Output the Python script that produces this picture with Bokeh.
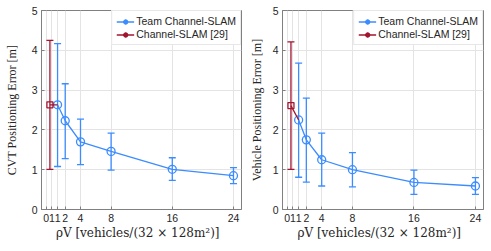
import math
from bokeh.plotting import figure
from bokeh.layouts import row
from bokeh.models import (ColumnDataSource, Whisker, TeeHead, FixedTicker, Range1d,
                          Legend, LegendItem)
from bokeh.embed import file_html
from bokeh.resources import INLINE

# ---- data ----
x_team = [1, 2, 4, 8, 16, 24]
cvt_mean = [2.63, 2.23, 1.70, 1.46, 1.01, 0.85]
cvt_upper = [4.17, 3.16, 2.27, 1.92, 1.30, 1.05]
cvt_lower = [1.08, 1.28, 1.13, 0.99, 0.73, 0.65]

x_cs = [0, 1]
cvt_cs_mean = [2.63, 2.63]
cvt_cs_upper = [4.25]
cvt_cs_lower = [1.01]

veh_mean = [2.25, 1.75, 1.25, 1.00, 0.68, 0.59]
veh_upper = [3.68, 2.80, 1.92, 1.43, 0.99, 0.80]
veh_lower = [0.81, 0.69, 0.59, 0.57, 0.38, 0.38]

veh_cs_mean = [2.61, 2.25]
veh_cs_upper = [4.21]
veh_cs_lower = [1.01]

x_tick_pos = [-0.5, 0.25, 1, 2, 4, 8, 16, 24]
x_tick_lab = ["0", "1", "1", "2", "4", "8", "16", "24"]
y_ticks = [0, 1, 2, 3, 4, 5]

BLUE = "#3b8cff"
RED = "#a2142f"
AX = "#808080"
TXT = "#262626"
GRID = "#e4e4e4"
XLABEL = "ρV   [vehicles/(32 × 128m²)]"


def make_plot(ylabel, mean, upper, lower, cs_mean, cs_upper, cs_lower,
              width, border_left, border_right, ylabel_standoff):
    p = figure(width=width, height=251, output_backend="svg", toolbar_location=None,
               x_range=Range1d(-1.1, 25.05), y_range=Range1d(0, 5),
               min_border_left=border_left, min_border_right=border_right,
               min_border_top=10, min_border_bottom=42)
    p.background_fill_color = "white"
    p.border_fill_color = "white"
    p.outline_line_color = AX
    p.outline_line_width = 1

    p.xaxis.ticker = FixedTicker(ticks=x_tick_pos)
    p.xaxis.major_label_overrides = {t: l for t, l in zip(x_tick_pos, x_tick_lab)}
    p.yaxis.ticker = FixedTicker(ticks=y_ticks)
    for ax in (p.xaxis[0], p.yaxis[0]):
        ax.axis_line_color = AX
        ax.major_tick_line_color = AX
        ax.major_tick_in = 3
        ax.major_tick_out = 0
        ax.minor_tick_line_color = None
        ax.major_label_text_font = "Liberation Sans"
        ax.major_label_text_font_size = "10.5px"
        ax.major_label_text_color = TXT
        ax.axis_label_text_font_style = "normal"
        ax.axis_label_text_color = TXT
    p.xaxis.major_label_standoff = 4
    p.yaxis.major_label_standoff = 4
    p.xaxis.axis_label = XLABEL
    p.xaxis.axis_label_text_font = "DejaVu Serif"
    p.xaxis.axis_label_text_font_size = "12px"
    p.xaxis.axis_label_standoff = 1
    p.yaxis.axis_label = ylabel
    p.yaxis.axis_label_text_font = "Liberation Serif"
    p.yaxis.axis_label_text_font_size = "12px"
    p.yaxis.axis_label_standoff = ylabel_standoff

    p.xgrid.grid_line_color = GRID
    p.ygrid.grid_line_color = GRID

    # Team Channel-SLAM
    src = ColumnDataSource(dict(x=x_team, y=mean, up=upper, lo=lower))
    w = Whisker(source=src, base="x", upper="up", lower="lo", dimension="height",
                line_color=BLUE, line_width=1.3,
                upper_head=TeeHead(size=7, line_color=BLUE, line_width=1.3),
                lower_head=TeeHead(size=7, line_color=BLUE, line_width=1.3))
    p.add_layout(w)

    # Channel-SLAM [29]
    cs_src = ColumnDataSource(dict(x=x_cs[:1], y=cs_mean[:1], up=cs_upper, lo=cs_lower))
    w2 = Whisker(source=cs_src, base="x", upper="up", lower="lo", dimension="height",
                 line_color=RED, line_width=1.3,
                 upper_head=TeeHead(size=7, line_color=RED, line_width=1.3),
                 lower_head=TeeHead(size=7, line_color=RED, line_width=1.3))
    p.add_layout(w2)

    p.line(x=x_team, y=mean, line_color=BLUE, line_width=1.3)
    p.scatter(x=x_team, y=mean, marker="circle", size=8, line_color=BLUE,
              line_width=1.3, fill_alpha=0)
    p.line(x=x_cs, y=cs_mean, line_color=RED, line_width=1.3)
    p.scatter(x=x_cs[:1], y=cs_mean[:1], marker="square", size=6, line_color=RED,
              line_width=1.3, fill_alpha=0)

    # legend-only renderers
    nan = [float("nan")]
    lb = p.line(x=nan, y=nan, line_color=BLUE, line_width=1.3)
    db = p.scatter(x=nan, y=nan, marker="circle", line_color=BLUE, fill_color=BLUE)
    cb = p.scatter(x=nan, y=nan, marker="cross", line_color=BLUE, line_width=1.3)
    lr = p.line(x=nan, y=nan, line_color=RED, line_width=1.3)
    dr = p.scatter(x=nan, y=nan, marker="circle", line_color=RED, fill_color=RED)
    cr = p.scatter(x=nan, y=nan, marker="cross", line_color=RED, line_width=1.3)

    leg = Legend(items=[LegendItem(label="Team Channel-SLAM", renderers=[lb, db, cb]),
                        LegendItem(label="Channel-SLAM [29]", renderers=[lr, dr, cr])],
                 location="top_right")
    leg.margin = 0
    leg.padding = 4
    leg.spacing = 1
    leg.glyph_width = 18
    leg.glyph_height = 11
    leg.label_height = 11
    leg.label_standoff = 2
    leg.label_text_font = "Liberation Sans"
    leg.label_text_font_size = "10.5px"
    leg.label_text_color = TXT
    leg.border_line_color = "#d0d0d0"
    leg.border_line_width = 1
    leg.background_fill_color = "white"
    leg.background_fill_alpha = 1
    p.add_layout(leg)
    return p


p1 = make_plot("CVT Positioning Error [m]", cvt_mean, cvt_upper, cvt_lower,
               cvt_cs_mean, cvt_cs_upper, cvt_cs_lower,
               width=245, border_left=41, border_right=4, ylabel_standoff=10)
p2 = make_plot("Vehicle Positioning Error [m]", veh_mean, veh_upper, veh_lower,
               veh_cs_mean, veh_cs_upper, veh_cs_lower,
               width=246, border_left=37, border_right=8, ylabel_standoff=6)

layout = row(p1, p2)
open("out.html", "w").write(file_html(layout, INLINE))
